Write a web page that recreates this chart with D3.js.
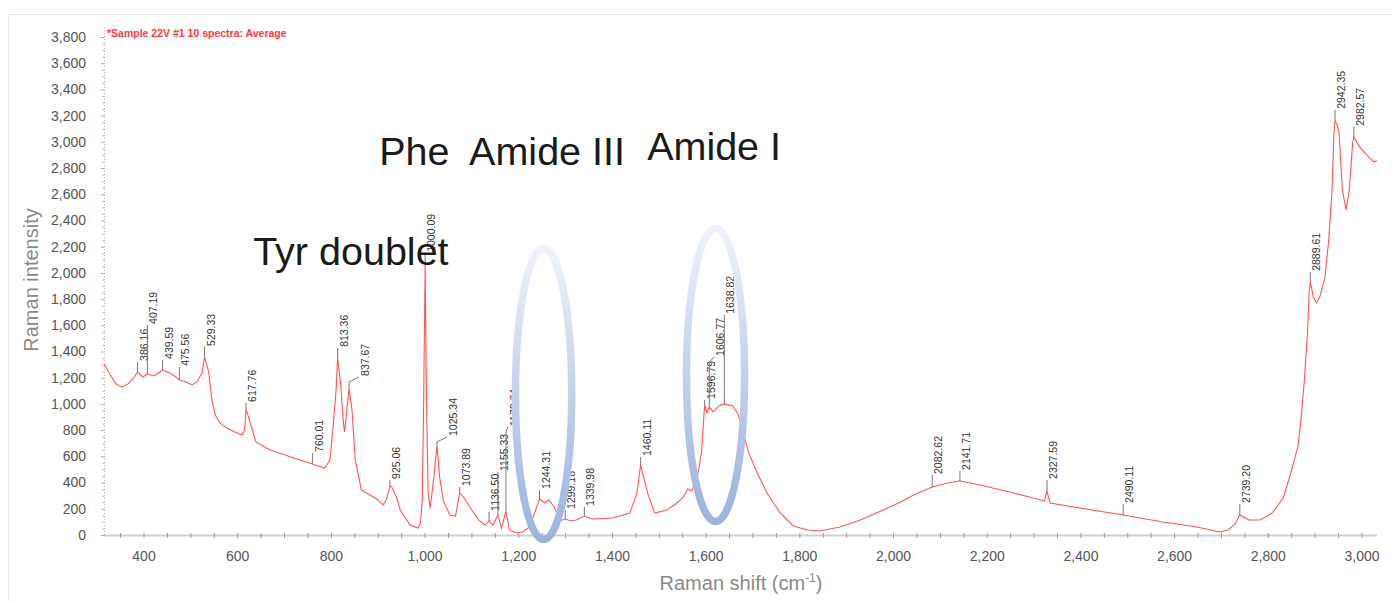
<!DOCTYPE html>
<html>
<head>
<meta charset="utf-8">
<script src="https://cdn.jsdelivr.net/npm/d3@7"></script>
<style>
  body { margin: 0; background: #fff; }
  svg { display: block; font-family: "Liberation Sans", Arial, sans-serif; }
</style>
</head>
<body>
<div id="chart"></div>
<script>
// spectrum: Raman shift (cm-1) and intensity
var shifts = [315, 327, 340, 353, 366, 378, 386.16, 398, 407.19, 421, 434, 439.59, 455, 468, 475.56, 490, 502, 513, 524, 529.33,
  538, 545, 552, 562, 577, 594, 609, 615, 617.76, 628, 639, 669, 701, 733, 760.01, 771, 786, 797, 803, 810,
  813.36, 820, 825, 828, 832, 837.67, 844, 851, 864, 882, 897, 910, 917, 925.06, 929, 938, 947, 968, 985, 990,
  994, 997, 1000.09, 1003, 1006.5, 1011, 1019, 1025.34, 1031, 1039, 1053, 1065, 1073.89, 1082, 1097, 1114, 1128, 1136.5, 1145, 1155.33,
  1163, 1172.64, 1180, 1195, 1208, 1223, 1236, 1244.31, 1256, 1264, 1276, 1287, 1299.18, 1312, 1323, 1339.98, 1357, 1400, 1437, 1452,
  1460.11, 1475, 1490, 1516, 1538, 1551, 1561, 1569, 1580, 1590, 1596.79, 1602, 1606.77, 1615, 1627, 1638.82, 1657, 1668, 1679, 1690,
  1709, 1730, 1758, 1786, 1816, 1843, 1886, 1929, 1978, 2015, 2043, 2082.62, 2115, 2141.71, 2185, 2256, 2322, 2327.59, 2334, 2398,
  2490.11, 2575, 2648, 2697, 2714, 2729, 2739.2, 2759, 2783, 2808, 2832, 2848, 2863, 2869, 2877, 2884, 2887, 2889.61, 2896, 2903,
  2910, 2921, 2929, 2936, 2940, 2942.35, 2946, 2951, 2958, 2966, 2973, 2980, 2982.57, 2995, 3010, 3025, 3032];
var intensity = [1305, 1229, 1153, 1130, 1153, 1199, 1244, 1206, 1229, 1214, 1244, 1260, 1237, 1206, 1183, 1168, 1145, 1168, 1237, 1359,
  1244, 1031, 916, 855, 817, 786, 763, 802, 962, 840, 710, 649, 611, 573, 542, 527, 511, 573, 802, 1107,
  1351, 1145, 878, 786, 916, 1122, 954, 573, 344, 305, 275, 229, 267, 374, 366, 298, 191, 76, 53, 90,
  267, 1031, 2054, 1031, 321, 206, 450, 687, 443, 260, 153, 145, 321, 290, 206, 115, 76, 107, 76, 153,
  53, 183, 38, 15, 23, 61, 191, 275, 244, 267, 214, 107, 122, 107, 115, 145, 122, 130, 168, 313,
  534, 321, 168, 191, 244, 290, 351, 336, 420, 626, 992, 931, 977, 939, 985, 1000, 985, 924, 786, 634,
  473, 321, 168, 69, 38, 31, 61, 115, 191, 252, 305, 366, 397, 412, 382, 321, 260, 336, 244, 206,
  153, 99, 61, 23, 38, 84, 153, 115, 115, 168, 282, 473, 672, 855, 1183, 1565, 1847, 1931, 1817, 1771,
  1817, 1970, 2252, 2634, 3060, 3160, 3140, 3069, 2634, 2481, 2634, 2993, 3038, 2962, 2901, 2847, 2855];

// labelled peaks and the intensity level where each label starts
var peakShifts = [386.16, 407.19, 439.59, 475.56, 529.33, 617.76, 760.01, 813.36, 837.67, 925.06, 1000.09, 1025.34, 1073.89,
  1136.5, 1155.33, 1172.64, 1244.31, 1299.18, 1339.98, 1460.11, 1596.79, 1606.77, 1638.82, 2082.62, 2141.71, 2327.59,
  2490.11, 2739.2, 2889.61, 2942.35, 2982.57];
var peakNames = ["386.16", "407.19", "439.59", "475.56", "529.33", "617.76", "760.01", "813.36", "837.67", "925.06", "1000.09",
  "1025.34", "1073.89", "1136.50", "1155.33", "1172.64", "1244.31", "1299.18", "1339.98", "1460.11", "1596.79", "1606.77",
  "1638.82", "2082.62", "2141.71", "2327.59", "2490.11", "2739.20", "2889.61", "2942.35", "2982.57"];
var peakLabelAt = [1321, 1603, 1336, 1283, 1435, 1008, 626, 1428, 1206, 420, 2153, 748, 366,
  176, 481, 824, 344, 191, 214, 595, 1031, 1359, 1680, 458, 489, 420,
  237, 237, 2008, 3244, 3115];
// labels pushed sideways by a short bent leader
var leaderShift = { "837.67": 10, "1025.34": 10, "1606.77": 5, "1172.64": 2 };

var xTicks = [400, 600, 800, 1000, 1200, 1400, 1600, 1800, 2000, 2200, 2400, 2600, 2800, 3000];
var yTicks = [0, 200, 400, 600, 800, 1000, 1200, 1400, 1600, 1800, 2000, 2200, 2400, 2600, 2800, 3000, 3200, 3400, 3600, 3800];

var notes = [
  { text: "Tyr doublet", shift: 633, level: 2061 },
  { text: "Phe", shift: 902, level: 2825 },
  { text: "Amide III", shift: 1094, level: 2825 },
  { text: "Amide I", shift: 1474, level: 2863 }
];
var rings = [
  { shift: 1253, level: 1076, halfShift: 60, halfLevel: 1111 },
  { shift: 1620, level: 1221, halfShift: 62, halfLevel: 1118 }
];

var W = 1392, H = 601;
var svg = d3.select("#chart").append("svg")
  .attr("width", W).attr("height", H);

svg.append("rect")
  .attr("x", 8.5).attr("y", 14.5)
  .attr("width", W).attr("height", H)
  .attr("fill", "none").attr("stroke", "#e6e6e6");

var x = d3.scaleLinear().domain([314.6, 3032]).range([104, 1377]);
var y = d3.scaleLinear().domain([0, 3800]).range([535, 37]);

// x axis
svg.append("line")
  .attr("x1", 104).attr("x2", 1377).attr("y1", 535.5).attr("y2", 535.5)
  .attr("stroke", "#cfcfcf").attr("stroke-width", 2);
svg.append("g").selectAll("line")
  .data(d3.range(350, 3032, 50))
  .enter().append("line")
    .attr("x1", function (d) { return x(d); })
    .attr("x2", function (d) { return x(d); })
    .attr("y1", 533).attr("y2", 538)
    .attr("stroke", "#999");
svg.append("g").selectAll("text")
  .data(xTicks)
  .enter().append("text")
    .attr("x", function (d) { return x(d); })
    .attr("y", 561)
    .attr("text-anchor", "middle")
    .attr("font-size", 14)
    .attr("fill", "#555")
    .text(function (d) { return d3.format(",")(d); });

// y axis
svg.append("line")
  .attr("x1", 104.5).attr("x2", 104.5).attr("y1", 27).attr("y2", 535)
  .attr("stroke", "#b5b5b5").attr("stroke-dasharray", "1,2");
svg.append("g").selectAll("line")
  .data(d3.range(0, 3850, 50))
  .enter().append("line")
    .attr("x1", function (d) { return d % 200 ? 102.5 : 101; })
    .attr("x2", 104.5)
    .attr("y1", function (d) { return y(d) + 0.5; })
    .attr("y2", function (d) { return y(d) + 0.5; })
    .attr("stroke", "#aaa");
svg.append("g").selectAll("text")
  .data(yTicks)
  .enter().append("text")
    .attr("x", 86)
    .attr("y", function (d) { return y(d); })
    .attr("dy", "0.35em")
    .attr("text-anchor", "end")
    .attr("font-size", 14)
    .attr("fill", "#555")
    .text(function (d) { return d3.format(",")(d); });

svg.append("text")
  .attr("transform", "translate(38,280) rotate(-90)")
  .attr("text-anchor", "middle")
  .attr("font-size", 20)
  .attr("fill", "#8a8a8a")
  .text("Raman intensity");

var xt = svg.append("text")
  .attr("x", 741).attr("y", 590)
  .attr("text-anchor", "middle")
  .attr("font-size", 20)
  .attr("fill", "#8a8a8a");
xt.append("tspan").text("Raman shift (cm");
xt.append("tspan").attr("font-size", 12).attr("dy", -8).text("-1");
xt.append("tspan").attr("dy", 8).text(")");

svg.append("text")
  .attr("x", 107).attr("y", 37)
  .attr("font-size", 10.5)
  .attr("font-weight", "bold")
  .attr("fill", "#ff3b3b")
  .text("*Sample 22V #1 10 spectra: Average");

// spectrum
var pts = shifts.map(function (s, i) { return [s, intensity[i]]; });
svg.append("path")
  .datum(pts)
  .attr("fill", "none")
  .attr("stroke", "#ff5555")
  .attr("stroke-width", 1.1)
  .attr("d", d3.line()
    .x(function (d) { return x(d[0]); })
    .y(function (d) { return y(d[1]); }));

// peak markers
var near = d3.bisector(function (d) { return d[0]; }).center;
var peaks = svg.append("g");
peakShifts.forEach(function (s, i) {
  var px = x(s), top = y(peakLabelAt[i]);
  var py = y(pts[near(pts, s)][1]);
  var dx = leaderShift[peakNames[i]] || 0;
  if (dx) {
    peaks.append("path")
      .attr("d", "M" + px + "," + py + "V" + (top + 5) + "L" + (px + dx) + "," + top)
      .attr("fill", "none").attr("stroke", "#777");
  } else {
    peaks.append("line")
      .attr("x1", px).attr("x2", px).attr("y1", py).attr("y2", top)
      .attr("stroke", "#777");
  }
  peaks.append("text")
    .attr("transform", "translate(" + (px + dx + 10) + "," + (top - 1) + ") rotate(-90)")
    .attr("font-size", 10.5)
    .attr("fill", "#333")
    .text(peakNames[i]);
});

// band annotations
svg.append("g").selectAll("text")
  .data(notes)
  .enter().append("text")
    .attr("x", function (d) { return x(d.shift); })
    .attr("y", function (d) { return y(d.level); })
    .attr("font-size", 39.5)
    .attr("fill", "#1a1a1a")
    .text(function (d) { return d.text; });

var grad = svg.append("defs").append("linearGradient")
  .attr("id", "ring").attr("x1", 0).attr("y1", 0).attr("x2", 0).attr("y2", 1);
grad.append("stop").attr("offset", "0%").attr("stop-color", "#eef2fa");
grad.append("stop").attr("offset", "55%").attr("stop-color", "#bfcde8");
grad.append("stop").attr("offset", "100%").attr("stop-color", "#9db3dc");

svg.append("g").selectAll("ellipse")
  .data(rings)
  .enter().append("ellipse")
    .attr("cx", function (d) { return x(d.shift); })
    .attr("cy", function (d) { return y(d.level); })
    .attr("rx", function (d) { return x(d.shift + d.halfShift) - x(d.shift); })
    .attr("ry", function (d) { return y(d.level - d.halfLevel) - y(d.level); })
    .attr("fill", "none")
    .attr("stroke", "url(#ring)")
    .attr("stroke-width", 7.5);
</script>
</body>
</html>
